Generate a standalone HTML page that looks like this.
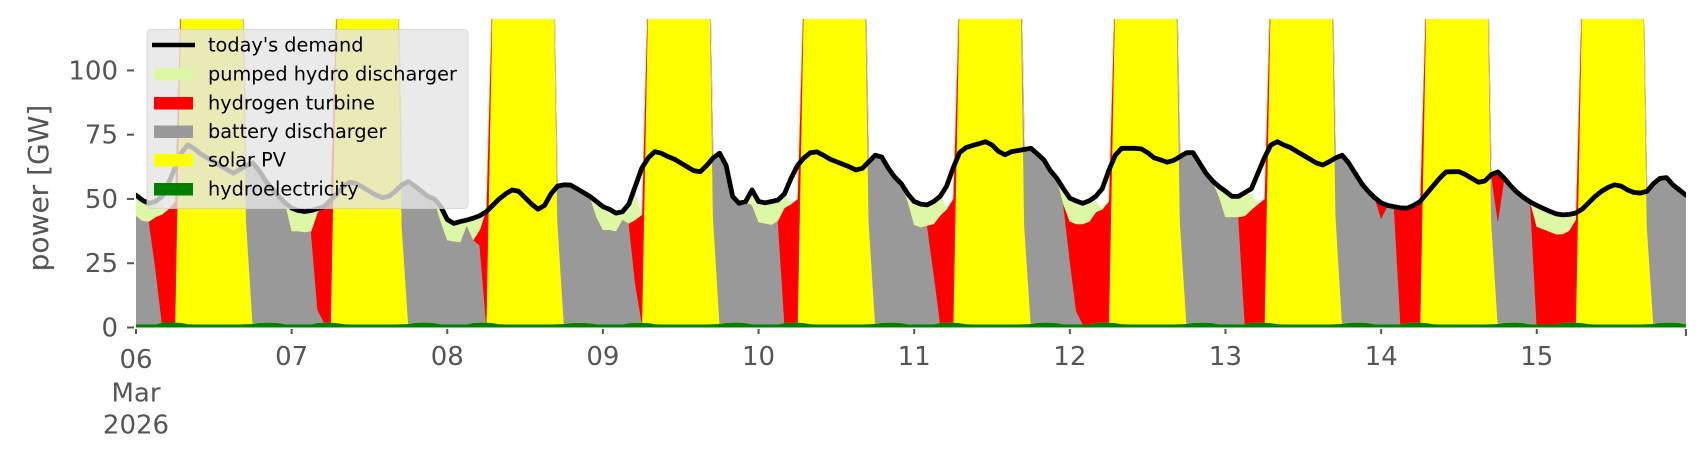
<!DOCTYPE html>
<html>
<head>
<meta charset="utf-8">
<style>
  html,body{margin:0;padding:0;background:#fff;}
  svg{display:block;font-family:"DejaVu Sans","Liberation Sans",sans-serif;}
</style>
</head>
<body>
<svg id="chart" width="1706" height="460" viewBox="0 0 1706 460" xmlns="http://www.w3.org/2000/svg">
  <defs>
    <clipPath id="plotclip"><rect x="136" y="19" width="1550" height="308.5"/></clipPath>
  </defs>
  <g id="stack" clip-path="url(#plotclip)"></g>
  <g id="demandg" clip-path="url(#plotclip)"></g>
  <g id="axes"></g>
  <text x="0" y="0" transform="translate(48,188) rotate(-90)" text-anchor="middle" font-size="28" fill="#555">power [GW]</text>
  <g id="legend">
    <rect x="147" y="29.5" width="321" height="179" rx="4" fill="#e5e5e5" fill-opacity="0.8" stroke="#d0d0d0" stroke-opacity="0.8"/>
    <line x1="152" y1="45" x2="195" y2="45" stroke="#000" stroke-width="4.5"/>
    <text x="208" y="51.5" font-size="19.3" fill="#000">today's demand</text>
    <rect x="154" y="68" width="39" height="12.5" fill="#dcf7a6"/>
    <text x="208" y="80.5" font-size="19.3" fill="#000">pumped hydro discharger</text>
    <rect x="154" y="97" width="39" height="12.5" fill="#ff0000"/>
    <text x="208" y="109.5" font-size="19.3" fill="#000">hydrogen turbine</text>
    <rect x="154" y="125.5" width="39" height="12.5" fill="#999999"/>
    <text x="208" y="138" font-size="19.3" fill="#000">battery discharger</text>
    <rect x="154" y="154" width="39" height="12.5" fill="#ffff00"/>
    <text x="208" y="166.5" font-size="19.3" fill="#000">solar PV</text>
    <rect x="154" y="183" width="39" height="12.5" fill="#008000"/>
    <text x="208" y="195.5" font-size="19.3" fill="#000">hydroelectricity</text>
  </g>
</svg>
<script>
// ---- data (hourly, 06 Mar 00:00 .. 15 Mar 23:00), one row per day ----
const dayLabels = ["06","07","08","09","10","11","12","13","14","15"];
const yTickValues = [0,25,50,75,100];

const demand = [
[51.5,49.5,48.3,49,50.9,56,62,68,71,69.5,67.5,66,64.5,63,61.5,60,61.5,63,64,61,57,54,51,48.5],
[46.5,45.5,45.1,45.5,46.2,47,49.5,52,55,56.5,56,54.5,53,51.5,50.5,51,53,55.5,56.8,55,53,51,50,47],
[42,40.5,41.2,41.8,42.5,43.5,45,47.5,50,52,53.5,53,50.5,48,46,47.5,52,55,55.5,55.4,54,52.5,51,49],
[47,46,44.5,45,48,55,62,66,68.4,67.8,66.5,65.5,64,62.5,61,60.6,63,66,67.8,63,51,48.3,49,53.5],
[49,48.5,49,49.6,52,58,63,66,68,68.3,67,65.5,64.5,63.5,62.5,61.3,61.9,64.5,67,66.3,62,58.5,56,52],
[49,48,47.7,49,51,55,62,68,70,70.8,71.5,72.3,71,68.5,67.2,68.4,68.8,69.3,69.7,67.5,65.2,61,58,54],
[50.3,49.2,48.3,49.3,51,54,61,67,69.7,69.7,69.7,69.5,68,66,65.2,64.3,65,66.5,68,68,64,60,57,54.8],
[53,51,51,52.5,54,60,66,71,72.3,71,70,68.5,67,65.5,64,63.2,64.5,66,67,64,60,56,53,50.5],
[48.5,47.5,47,46.5,46.4,47.5,49,52,55,58,60.5,60.6,60.6,59.5,58,56.5,57,59.5,60.5,58,55,52.5,50.5,48.8],
[47.5,46.3,45.2,44.2,43.8,44,44.5,46,48.5,51,53,54.5,55.5,55,53.5,52.5,52.3,53,56,58,58.3,55.5,53.5,51.5]
];

const hydro = [
[1.3,1.3,1.3,1.3,2,2.1,2,1.9,1.4,1.3,1.3,1.3,1.3,1.3,1.3,1.3,1.3,1.4,1.5,1.9,2,2,1.8,1.4],
[1.3,1.3,1.3,1.3,1.9,2,2,1.8,1.4,1.3,1.3,1.3,1.3,1.3,1.3,1.3,1.3,1.4,1.5,1.9,2,2,1.8,1.4],
[1.3,1.3,1.3,1.3,1.9,2,2,1.8,1.4,1.3,1.3,1.3,1.3,1.3,1.3,1.3,1.3,1.4,1.5,1.8,1.9,1.9,1.7,1.4],
[1.3,1.3,1.3,1.3,1.8,1.9,1.9,1.8,1.4,1.3,1.3,1.3,1.3,1.3,1.3,1.3,1.3,1.4,1.5,1.9,2,2,1.8,1.4],
[1.3,1.3,1.3,1.3,1.9,2,2,1.8,1.4,1.3,1.3,1.3,1.3,1.3,1.3,1.3,1.3,1.4,1.5,1.9,2,2,1.8,1.4],
[1.3,1.3,1.3,1.3,1.9,2,2,1.8,1.4,1.3,1.3,1.3,1.3,1.3,1.3,1.3,1.3,1.4,1.5,1.9,2,2,1.8,1.4],
[1.3,1.3,1.3,1.3,1.9,2,2,1.8,1.4,1.3,1.3,1.3,1.3,1.3,1.3,1.3,1.3,1.4,1.5,1.9,2,2,1.8,1.4],
[1.3,1.3,1.3,1.3,1.9,2,2,1.8,1.4,1.3,1.3,1.3,1.3,1.3,1.3,1.3,1.3,1.4,1.5,1.9,2,2,1.8,1.4],
[1.3,1.3,1.3,1.3,1.9,2,2,1.8,1.4,1.3,1.3,1.3,1.3,1.3,1.3,1.3,1.3,1.4,1.5,1.9,2,2,1.8,1.4],
[1.3,1.3,1.3,1.3,1.9,2,2,1.8,1.4,1.3,1.3,1.3,1.3,1.3,1.3,1.3,1.3,1.4,1.5,1.9,2,2,1.8,1.4]
];

const solar = [
[0,0,0,0,0,0,0,135,190,220,240,240,240,240,240,240,205,40,0,0,0,0,0,0],
[0,0,0,0,0,0,0,133,188,222,238,242,240,240,238,236,203,38,0,0,0,0,0,0],
[0,0,0,0,0,0,0,135,192,224,240,244,242,240,238,236,205,40,0,0,0,0,0,0],
[0,0,0,0,0,0,0,137,190,220,240,240,240,238,240,238,207,42,0,0,0,0,0,0],
[0,0,0,0,0,0,0,135,190,220,240,242,240,240,240,238,205,40,0,0,0,0,0,0],
[0,0,0,0,0,0,0,133,188,218,238,240,240,240,238,236,203,38,0,0,0,0,0,0],
[0,0,0,0,0,0,0,135,190,222,240,242,242,240,240,238,205,40,0,0,0,0,0,0],
[0,0,0,0,0,0,0,137,192,222,242,244,242,240,240,238,207,42,0,0,0,0,0,0],
[0,0,0,0,0,0,0,135,190,220,240,240,240,240,238,236,205,40,0,0,0,0,0,0],
[0,0,0,0,0,0,0,133,188,218,238,240,240,238,238,236,203,38,0,0,0,0,0,0]
];

const battery = [
[42.2,40.2,40,21.7,0,0,0,0,0,0,0,0,0,0,0,0,0,21,62.7,59,55,52,49,47.2],
[36.2,36.2,35.8,36.2,5,0,0,0,0,0,0,0,0,0,0,0,0,16,55.5,53,51,49,48,39.7],
[32.7,32.2,32,38.5,32.2,30,0,0,0,0,0,0,0,0,0,0,0,13,54.2,53.4,52,50.5,49,41.7],
[36.7,36.7,36.2,40.7,38.7,15,0,0,0,0,0,0,0,0,0,0,0,22,66.5,61,49,46.3,47,46.2],
[39.7,39.2,38.7,40.3,0,0,0,0,0,0,0,0,0,0,0,0,0,23,65.7,64.3,60,56.5,54,47.7],
[38.7,37.7,38.4,20,0,0,0,0,0,0,0,0,0,0,0,0,0,30,68.4,65.5,63.2,59,56,46.7],
[25,5,0,0,0,0,0,0,0,0,0,0,0,0,0,0,0,25,66.7,66,62,58,55,49.5],
[41.7,41.7,41.7,0,0,0,0,0,0,0,0,0,0,0,0,0,0,22,65.7,62,58,54,51,49.2],
[41.2,46.2,45.7,0,0,0,0,0,0,0,0,0,0,0,0,0,0,18,40,56.7,53,50.5,48.5,47.5],
[0,0,0,0,0,0,0,0,0,0,0,0,0,0,0,0,0,14,54.7,56,56.3,53.5,51.5,50.2]
];

const hydrogen = [
[0,0,0,20,42,44,47,0,0,0,0,0,0,0,0,0,0,0,0,0,0,0,0,0],
[0,0,0,0,38,45,47,0,0,0,0,0,0,0,0,0,0,0,0,0,0,0,0,0],
[0,0,0,0,0,6,43.7,0,0,0,0,0,0,0,0,0,0,0,0,0,0,0,0,0],
[0,0,0,0,0,25,42,0,0,0,0,0,0,0,0,0,0,0,0,0,0,0,0,0],
[0,0,0,0,44.7,46,48,0,0,0,0,0,0,0,0,0,0,0,0,0,0,0,0,0],
[0,0,0,19,41.7,44,48,0,0,0,0,0,0,0,0,0,0,0,0,0,0,0,0,0],
[15,34,39,40,43,44,47,0,0,0,0,0,0,0,0,0,0,0,0,0,0,0,0,0],
[0,0,0,42.2,44,46,48,0,0,0,0,0,0,0,0,0,0,0,0,0,0,0,0,0],
[6,0,0,45.2,45,46,47,0,0,0,0,0,0,0,0,0,0,0,19.2,0,0,0,0,0],
[38,37,36,35,34.5,35.7,40,0,0,0,0,0,0,0,0,0,0,0,0,0,0,0,0,0]
];

const pumped = [
[8,8,7,6,3,0,0,0,0,0,0,0,0,0,0,0,0,0,0,0,0,0,0,0],
[9,8,8,8,2,0,0,0,0,0,0,0,0,0,0,0,0,0,0,0,0,0,0,6],
[8,7,8,2,9,6,0,0,0,0,0,0,0,0,0,0,0,0,0,0,0,0,0,6],
[9,8,7,3,8,10,0,0,0,0,0,0,0,0,0,0,0,0,0,0,0,0,0,5],
[8,8,9,8,6,0,0,0,0,0,0,0,0,0,0,0,0,0,0,0,0,0,0,3],
[9,9,8,9,8,0,0,0,0,0,0,0,0,0,0,0,0,0,0,0,0,0,0,6],
[9,9,8,8,4,0,0,0,0,0,0,0,0,0,0,0,0,0,0,0,0,0,0,4],
[10,8,8,9,6,0,0,0,0,0,0,0,0,0,0,0,0,0,0,0,0,0,0,0],
[0,0,0,0,0,0,0,0,0,0,0,0,0,0,0,0,0,0,0,0,0,0,0,0],
[8,8,8,8,8,7,0,0,0,0,0,0,0,0,0,0,0,0,0,0,0,0,0,0]
];

// ---- layout ----
const X0 = 136, HOURW = 6.485, Y0 = 327.5, PXPERGW = 308.5/120;
function xs(i){ return X0 + i*HOURW; }
function ys(v){ return Y0 - v*PXPERGW; }
function flat(rows){ return [].concat(...rows); }
const NS = "http://www.w3.org/2000/svg";

const D = flat(demand);
const layers = [
  {name:"hydro-area", vals:flat(hydro), color:"#008000"},
  {name:"solar-area", vals:flat(solar), color:"#ffff00"},
  {name:"battery-area", vals:flat(battery), color:"#999999"},
  {name:"hydrogen-area", vals:flat(hydrogen), color:"#ff0000"},
  {name:"pumped-hydro-area", vals:flat(pumped), color:"#dcf7a6"}
];
const n = D.length;
let base = new Array(n).fill(0);
const stackG = document.getElementById("stack");
layers.forEach(function(L){
  const top = base.map(function(b,i){ return b + L.vals[i]; });
  let pts = [];
  for (let i=0;i<n;i++) pts.push(xs(i).toFixed(2)+","+ys(top[i]).toFixed(2));
  for (let i=n-1;i>=0;i--) pts.push(xs(i).toFixed(2)+","+ys(base[i]).toFixed(2));
  const p = document.createElementNS(NS,"polygon");
  p.setAttribute("points", pts.join(" "));
  p.setAttribute("fill", L.color);
  p.setAttribute("stroke", L.color);
  p.setAttribute("stroke-width", "0.6");
  
  
  stackG.appendChild(p);
  base = top;
});

// demand line
const dg = document.getElementById("demandg");
const dl = document.createElementNS(NS,"polyline");
dl.setAttribute("points", D.map(function(v,i){ return xs(i).toFixed(2)+","+ys(v).toFixed(2); }).join(" "));
dl.setAttribute("fill","none");
dl.setAttribute("stroke","#000");
dl.setAttribute("stroke-width","4.8");
dl.setAttribute("stroke-linejoin","round");
dl.setAttribute("stroke-linecap","round");


dg.appendChild(dl);

// axes
const ax = document.getElementById("axes");
yTickValues.forEach(function(v){
  const y = ys(v);
  const t = document.createElementNS(NS,"line");
  t.setAttribute("x1",127); t.setAttribute("x2",134);
  t.setAttribute("y1",y); t.setAttribute("y2",y);
  t.setAttribute("stroke","#555"); t.setAttribute("stroke-width","2");
  
  
  ax.appendChild(t);
  const tx = document.createElementNS(NS,"text");
  tx.setAttribute("x",118); tx.setAttribute("y",y+9);
  tx.setAttribute("text-anchor","end");
  tx.setAttribute("font-size","26"); tx.setAttribute("fill","#555");
  tx.textContent = String(v);
  
  
  ax.appendChild(tx);
});
dayLabels.forEach(function(lab,d){
  const x = xs(d*24);
  const t = document.createElementNS(NS,"line");
  t.setAttribute("x1",x); t.setAttribute("x2",x);
  t.setAttribute("y1",329); t.setAttribute("y2",334);
  t.setAttribute("stroke","#555"); t.setAttribute("stroke-width","2");
  
  
  ax.appendChild(t);
  const tx = document.createElementNS(NS,"text");
  tx.setAttribute("x",x); tx.setAttribute("y", d===0 ? 368 : 365);
  tx.setAttribute("text-anchor","middle");
  tx.setAttribute("font-size","26"); tx.setAttribute("fill","#555");
  tx.textContent = lab;
  
  
  ax.appendChild(tx);
});
// final tick at right end
(function(){
  const x = xs(n-1);
  const t = document.createElementNS(NS,"line");
  t.setAttribute("x1",x); t.setAttribute("x2",x);
  t.setAttribute("y1",329); t.setAttribute("y2",336);
  t.setAttribute("stroke","#555"); t.setAttribute("stroke-width","2");
  
  
  ax.appendChild(t);
})();
["Mar","2026"].forEach(function(s,k){
  const tx = document.createElementNS(NS,"text");
  tx.setAttribute("x",xs(0)); tx.setAttribute("y", 401.5 + k*32);
  tx.setAttribute("text-anchor","middle");
  tx.setAttribute("font-size","26"); tx.setAttribute("fill","#555");
  tx.textContent = s;
  
  
  ax.appendChild(tx);
});
</script>
</body>
</html>
